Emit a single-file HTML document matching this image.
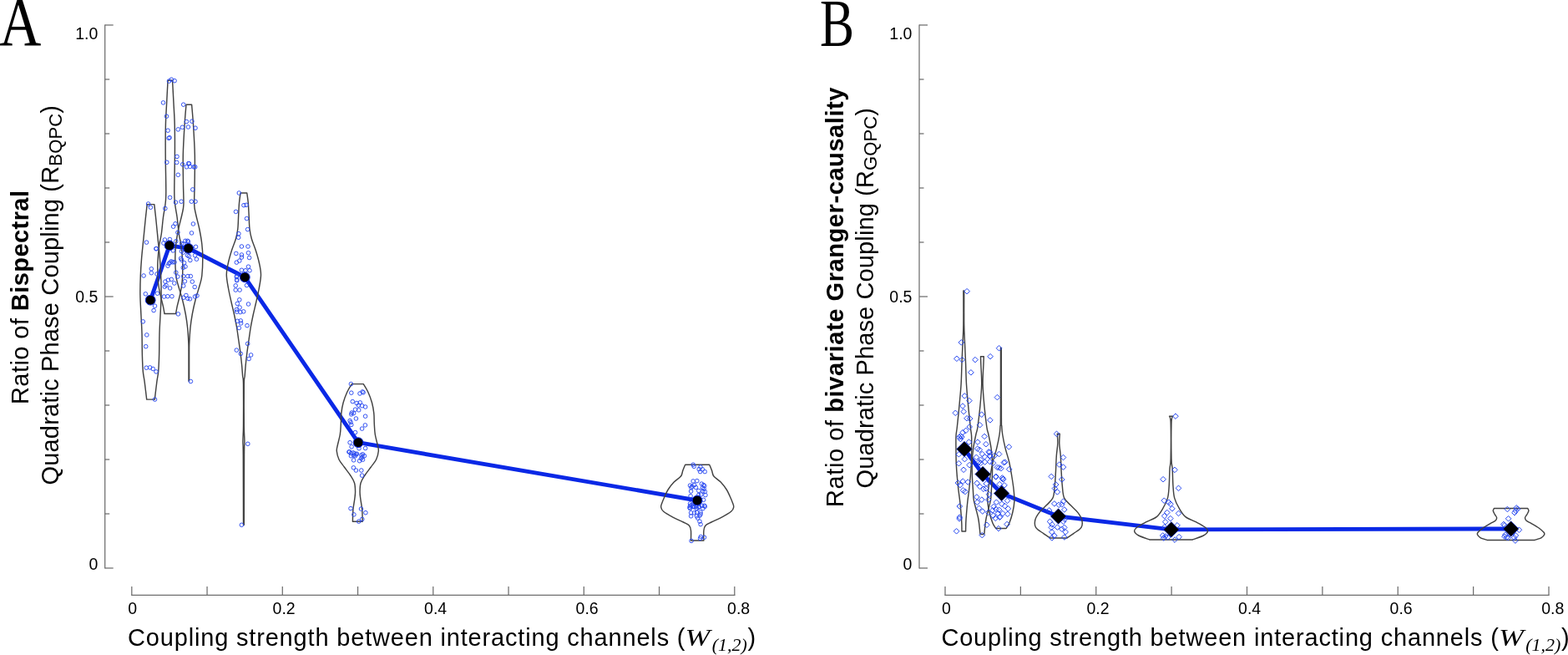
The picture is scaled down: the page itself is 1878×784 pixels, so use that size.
<!DOCTYPE html>
<html><head><meta charset="utf-8"><style>
html,body{margin:0;padding:0;background:#fff;}
body{width:1878px;height:784px;overflow:hidden;}
svg{display:block;}
.sans{font-family:"Liberation Sans",Arial,sans-serif;}
.serif{font-family:"Liberation Serif","Times New Roman",serif;}
</style></head><body>
<svg width="1878" height="784" viewBox="0 0 1878 784">
<rect width="1878" height="784" fill="#fff"/>
<text class="serif" font-size="82" transform="translate(-1,54) scale(0.85,1)">A</text><text class="serif" font-size="81" transform="translate(982,54.6) scale(0.76,1)">B</text><g stroke="#6e6e6e" stroke-width="1.25" fill="none"><path d="M125.70,29.4 V680.6"/><path d="M125.70,680.00 h10.0"/><path d="M125.70,615.00 h5.5"/><path d="M125.70,550.00 h5.5"/><path d="M125.70,485.00 h5.5"/><path d="M125.70,420.00 h5.5"/><path d="M125.70,355.00 h10.0"/><path d="M125.70,290.00 h5.5"/><path d="M125.70,225.00 h5.5"/><path d="M125.70,160.00 h5.5"/><path d="M125.70,95.00 h5.5"/><path d="M125.70,30.00 h10.0"/><path d="M157.20,712.4 H880.40"/><path d="M157.80,712.4 V702"/><path d="M248.05,712.4 V702"/><path d="M338.30,712.4 V702"/><path d="M428.55,712.4 V702"/><path d="M518.80,712.4 V702"/><path d="M609.05,712.4 V702"/><path d="M699.30,712.4 V702"/><path d="M789.55,712.4 V702"/><path d="M879.80,712.4 V702"/></g><g font-family="Liberation Sans, Arial, sans-serif" font-size="19.5" fill="#000"><text x="158.6" y="734.6" text-anchor="middle">0</text><text x="340.1" y="734.6" text-anchor="middle">0.2</text><text x="521.6" y="734.6" text-anchor="middle">0.4</text><text x="703.1" y="734.6" text-anchor="middle">0.6</text><text x="884.6" y="734.6" text-anchor="middle">0.8</text><text x="117.3" y="46.8" text-anchor="end">1.0</text><text x="117.3" y="361.5" text-anchor="end">0.5</text><text x="117.3" y="681.9" text-anchor="end">0</text></g><g stroke="#6e6e6e" stroke-width="1.25" fill="none"><path d="M1101.00,29.4 V680.6"/><path d="M1101.00,680.00 h10.0"/><path d="M1101.00,615.00 h5.5"/><path d="M1101.00,550.00 h5.5"/><path d="M1101.00,485.00 h5.5"/><path d="M1101.00,420.00 h5.5"/><path d="M1101.00,355.00 h10.0"/><path d="M1101.00,290.00 h5.5"/><path d="M1101.00,225.00 h5.5"/><path d="M1101.00,160.00 h5.5"/><path d="M1101.00,95.00 h5.5"/><path d="M1101.00,30.00 h10.0"/><path d="M1131.40,712.4 H1855.60"/><path d="M1132.00,712.4 V702"/><path d="M1222.38,712.4 V702"/><path d="M1312.75,712.4 V702"/><path d="M1403.12,712.4 V702"/><path d="M1493.50,712.4 V702"/><path d="M1583.88,712.4 V702"/><path d="M1674.25,712.4 V702"/><path d="M1764.62,712.4 V702"/><path d="M1855.00,712.4 V702"/></g><g font-family="Liberation Sans, Arial, sans-serif" font-size="19.5" fill="#000"><text x="1133.4" y="734.6" text-anchor="middle">0</text><text x="1315.0" y="734.6" text-anchor="middle">0.2</text><text x="1496.6" y="734.6" text-anchor="middle">0.4</text><text x="1678.1" y="734.6" text-anchor="middle">0.6</text><text x="1859.7" y="734.6" text-anchor="middle">0.8</text><text x="1092.4" y="46.8" text-anchor="end">1.0</text><text x="1092.4" y="361.5" text-anchor="end">0.5</text><text x="1092.4" y="681.9" text-anchor="end">0</text></g><polyline points="180.2,359.2 203.0,293.8 225.7,297.3 293.3,331.8 429.1,529.7 835.1,599.0" fill="none" stroke="#0a28e6" stroke-width="4.9" stroke-linejoin="round"/><polyline points="1155.0,537.5 1177.1,567.5 1199.6,590.5 1267.6,618.0 1402.9,633.9 1809.7,633.0" fill="none" stroke="#0a28e6" stroke-width="4.9" stroke-linejoin="round"/><g fill="none" stroke="#424242" stroke-width="1.45" stroke-linejoin="round"><path d="M176.20,244.60 L184.80,244.60 C185.14,247.67 186.13,256.12 186.85,263.00 C187.57,269.88 188.34,278.25 189.10,285.90 C189.86,293.55 190.80,301.55 191.40,308.90 C192.00,316.25 192.42,322.65 192.70,330.00 C192.98,337.35 193.20,345.33 193.10,353.00 C193.00,360.67 192.45,368.33 192.10,376.00 C191.75,383.67 191.25,390.75 191.00,399.00 C190.75,407.25 190.82,417.90 190.60,425.50 C190.38,433.10 190.17,439.28 189.70,444.60 C189.23,449.92 188.53,451.82 187.80,457.40 C187.07,462.98 185.72,474.65 185.30,478.10 L175.70,478.10 C175.28,474.65 173.93,462.98 173.20,457.40 C172.47,451.82 171.77,449.92 171.30,444.60 C170.83,439.28 170.62,433.10 170.40,425.50 C170.18,417.90 170.25,407.25 170.00,399.00 C169.75,390.75 169.25,383.67 168.90,376.00 C168.55,368.33 168.00,360.67 167.90,353.00 C167.80,345.33 168.02,337.35 168.30,330.00 C168.58,322.65 169.00,316.25 169.60,308.90 C170.20,301.55 171.14,293.55 171.90,285.90 C172.66,278.25 173.43,269.88 174.15,263.00 C174.87,256.12 175.86,247.67 176.20,244.60 Z"/><path d="M201.05,96.20 L206.55,96.20 C206.78,100.67 207.51,114.20 207.95,123.00 C208.39,131.80 208.96,138.67 209.20,149.00 C209.44,159.33 209.47,171.50 209.40,185.00 C209.33,198.50 208.75,220.00 208.80,230.00 C208.85,240.00 209.15,240.00 209.70,245.00 C210.25,250.00 211.33,254.17 212.10,260.00 C212.87,265.83 213.52,274.50 214.30,280.00 C215.08,285.50 216.08,287.67 216.80,293.00 C217.52,298.33 218.30,305.67 218.60,312.00 C218.90,318.33 218.82,325.67 218.60,331.00 C218.38,336.33 217.95,339.75 217.30,344.00 C216.65,348.25 215.55,352.72 214.70,356.50 C213.85,360.28 212.88,363.53 212.20,366.70 C211.52,369.87 210.87,374.03 210.60,375.50 L197.00,375.50 C196.73,374.03 196.08,369.87 195.40,366.70 C194.72,363.53 193.75,360.28 192.90,356.50 C192.05,352.72 190.95,348.25 190.30,344.00 C189.65,339.75 189.22,336.33 189.00,331.00 C188.78,325.67 188.70,318.33 189.00,312.00 C189.30,305.67 190.08,298.33 190.80,293.00 C191.52,287.67 192.52,285.50 193.30,280.00 C194.08,274.50 194.73,265.83 195.50,260.00 C196.27,254.17 197.35,250.00 197.90,245.00 C198.45,240.00 198.75,240.00 198.80,230.00 C198.85,220.00 198.27,198.50 198.20,185.00 C198.13,171.50 198.16,159.33 198.40,149.00 C198.64,138.67 199.21,131.80 199.65,123.00 C200.09,114.20 200.82,100.67 201.05,96.20 Z"/><path d="M223.00,125.20 L229.60,125.20 C229.92,129.17 230.88,139.03 231.50,149.00 C232.12,158.97 233.03,173.17 233.30,185.00 C233.57,196.83 233.20,210.00 233.10,220.00 C233.00,230.00 232.43,238.83 232.70,245.00 C232.97,251.17 233.68,252.17 234.70,257.00 C235.72,261.83 237.62,268.17 238.80,274.00 C239.98,279.83 241.13,286.17 241.80,292.00 C242.47,297.83 242.80,302.67 242.80,309.00 C242.80,315.33 242.38,324.67 241.80,330.00 C241.22,335.33 240.55,336.33 239.30,341.00 C238.05,345.67 235.80,352.17 234.30,358.00 C232.80,363.83 231.37,370.17 230.30,376.00 C229.23,381.83 228.48,387.33 227.90,393.00 C227.32,398.67 227.02,405.50 226.80,410.00 C226.58,414.50 226.63,412.33 226.60,420.00 C226.57,427.67 226.60,450.00 226.60,456.00 L226.00,456.00 C226.00,450.00 226.03,427.67 226.00,420.00 C225.97,412.33 226.02,414.50 225.80,410.00 C225.58,405.50 225.28,398.67 224.70,393.00 C224.12,387.33 223.37,381.83 222.30,376.00 C221.23,370.17 219.80,363.83 218.30,358.00 C216.80,352.17 214.55,345.67 213.30,341.00 C212.05,336.33 211.38,335.33 210.80,330.00 C210.22,324.67 209.80,315.33 209.80,309.00 C209.80,302.67 210.13,297.83 210.80,292.00 C211.47,286.17 212.62,279.83 213.80,274.00 C214.98,268.17 216.88,261.83 217.90,257.00 C218.92,252.17 219.63,251.17 219.90,245.00 C220.17,238.83 219.60,230.00 219.50,220.00 C219.40,210.00 219.03,196.83 219.30,185.00 C219.57,173.17 220.48,158.97 221.10,149.00 C221.72,139.03 222.68,129.17 223.00,125.20 Z"/><path d="M288.05,231.00 L295.75,231.00 C296.01,233.00 296.90,238.50 297.30,243.00 C297.70,247.50 297.87,252.83 298.15,258.00 C298.43,263.17 298.46,269.33 299.00,274.00 C299.54,278.67 300.17,281.67 301.40,286.00 C302.63,290.33 304.88,295.17 306.40,300.00 C307.92,304.83 309.48,310.17 310.50,315.00 C311.52,319.83 312.53,324.00 312.50,329.00 C312.47,334.00 311.23,339.67 310.30,345.00 C309.37,350.33 308.05,355.83 306.90,361.00 C305.75,366.17 304.48,371.00 303.40,376.00 C302.32,381.00 301.28,385.92 300.40,391.00 C299.52,396.08 298.85,401.33 298.10,406.50 C297.35,411.67 296.55,416.92 295.90,422.00 C295.25,427.08 294.65,432.33 294.20,437.00 C293.75,441.67 293.52,446.17 293.20,450.00 C292.88,453.83 292.45,450.00 292.30,460.00 C292.15,470.00 292.20,498.67 292.30,510.00 C292.40,521.33 292.87,522.17 292.90,528.00 C292.93,533.83 292.60,528.28 292.50,545.00 C292.40,561.72 292.33,614.42 292.30,628.30 L291.50,628.30 C291.47,614.42 291.40,561.72 291.30,545.00 C291.20,528.28 290.87,533.83 290.90,528.00 C290.93,522.17 291.40,521.33 291.50,510.00 C291.60,498.67 291.65,470.00 291.50,460.00 C291.35,450.00 290.92,453.83 290.60,450.00 C290.28,446.17 290.05,441.67 289.60,437.00 C289.15,432.33 288.55,427.08 287.90,422.00 C287.25,416.92 286.45,411.67 285.70,406.50 C284.95,401.33 284.28,396.08 283.40,391.00 C282.52,385.92 281.48,381.00 280.40,376.00 C279.32,371.00 278.05,366.17 276.90,361.00 C275.75,355.83 274.43,350.33 273.50,345.00 C272.57,339.67 271.33,334.00 271.30,329.00 C271.27,324.00 272.28,319.83 273.30,315.00 C274.32,310.17 275.88,304.83 277.40,300.00 C278.92,295.17 281.17,290.33 282.40,286.00 C283.63,281.67 284.26,278.67 284.80,274.00 C285.34,269.33 285.37,263.17 285.65,258.00 C285.93,252.83 286.10,247.50 286.50,243.00 C286.90,238.50 287.79,233.00 288.05,231.00 Z"/><path d="M421.30,459.60 L435.30,459.60 C436.20,461.17 439.00,465.27 440.70,469.00 C442.40,472.73 444.32,477.73 445.50,482.00 C446.68,486.27 447.33,490.37 447.80,494.60 C448.27,498.83 448.05,503.17 448.30,507.40 C448.55,511.63 448.63,515.73 449.30,520.00 C449.97,524.27 451.63,529.67 452.30,533.00 C452.97,536.33 453.58,537.17 453.30,540.00 C453.02,542.83 452.10,546.83 450.60,550.00 C449.10,553.17 446.58,555.83 444.30,559.00 C442.02,562.17 438.93,565.83 436.90,569.00 C434.87,572.17 433.08,574.75 432.10,578.00 C431.12,581.25 431.10,585.33 431.05,588.50 C431.00,591.67 431.36,593.42 431.80,597.00 C432.24,600.58 433.30,605.47 433.70,610.00 C434.10,614.53 434.12,621.83 434.20,624.20 L422.40,624.20 C422.48,621.83 422.50,614.53 422.90,610.00 C423.30,605.47 424.36,600.58 424.80,597.00 C425.24,593.42 425.60,591.67 425.55,588.50 C425.50,585.33 425.48,581.25 424.50,578.00 C423.52,574.75 421.73,572.17 419.70,569.00 C417.67,565.83 414.58,562.17 412.30,559.00 C410.02,555.83 407.50,553.17 406.00,550.00 C404.50,546.83 403.58,542.83 403.30,540.00 C403.02,537.17 403.63,536.33 404.30,533.00 C404.97,529.67 406.63,524.27 407.30,520.00 C407.97,515.73 408.05,511.63 408.30,507.40 C408.55,503.17 408.33,498.83 408.80,494.60 C409.27,490.37 409.92,486.27 411.10,482.00 C412.28,477.73 414.20,472.73 415.90,469.00 C417.60,465.27 420.40,461.17 421.30,459.60 Z"/><path d="M820.70,556.20 L849.70,556.20 C850.17,557.33 851.63,560.70 852.50,563.00 C853.37,565.30 853.12,567.67 854.90,570.00 C856.68,572.33 860.65,574.33 863.20,577.00 C865.75,579.67 868.37,583.17 870.20,586.00 C872.03,588.83 872.95,591.25 874.20,594.00 C875.45,596.75 876.95,600.33 877.70,602.50 C878.45,604.67 879.00,605.42 878.70,607.00 C878.40,608.58 878.35,609.93 875.90,612.00 C873.45,614.07 867.98,617.23 864.00,619.40 C860.02,621.57 855.17,623.40 852.00,625.00 C848.83,626.60 846.52,627.33 845.00,629.00 C843.48,630.67 843.25,632.00 842.90,635.00 C842.55,638.00 842.90,645.00 842.90,647.00 L827.50,647.00 C827.50,645.00 827.85,638.00 827.50,635.00 C827.15,632.00 826.92,630.67 825.40,629.00 C823.88,627.33 821.57,626.60 818.40,625.00 C815.23,623.40 810.38,621.57 806.40,619.40 C802.42,617.23 796.95,614.07 794.50,612.00 C792.05,609.93 792.00,608.58 791.70,607.00 C791.40,605.42 791.95,604.67 792.70,602.50 C793.45,600.33 794.95,596.75 796.20,594.00 C797.45,591.25 798.37,588.83 800.20,586.00 C802.03,583.17 804.65,579.67 807.20,577.00 C809.75,574.33 813.72,572.33 815.50,570.00 C817.28,567.67 817.03,565.30 817.90,563.00 C818.77,560.70 820.23,557.33 820.70,556.20 Z"/><path d="M1153.90,347.90 L1154.70,347.90 C1154.70,354.67 1154.57,378.15 1154.70,388.50 C1154.83,398.85 1155.18,402.25 1155.50,410.00 C1155.82,417.75 1156.27,426.67 1156.60,435.00 C1156.93,443.33 1156.98,451.50 1157.50,460.00 C1158.02,468.50 1158.90,477.42 1159.70,486.00 C1160.50,494.58 1161.65,505.50 1162.30,511.50 C1162.95,517.50 1163.38,517.25 1163.60,522.00 C1163.82,526.75 1163.65,534.50 1163.60,540.00 C1163.55,545.50 1163.52,550.00 1163.30,555.00 C1163.08,560.00 1162.73,564.83 1162.30,570.00 C1161.87,575.17 1161.27,581.00 1160.70,586.00 C1160.13,591.00 1159.42,595.33 1158.90,600.00 C1158.38,604.67 1157.95,609.67 1157.60,614.00 C1157.25,618.33 1156.97,622.33 1156.80,626.00 C1156.63,629.67 1156.63,634.33 1156.60,636.00 L1152.00,636.00 C1151.97,634.33 1151.97,629.67 1151.80,626.00 C1151.63,622.33 1151.35,618.33 1151.00,614.00 C1150.65,609.67 1150.22,604.67 1149.70,600.00 C1149.18,595.33 1148.47,591.00 1147.90,586.00 C1147.33,581.00 1146.73,575.17 1146.30,570.00 C1145.87,564.83 1145.52,560.00 1145.30,555.00 C1145.08,550.00 1145.05,545.50 1145.00,540.00 C1144.95,534.50 1144.78,526.75 1145.00,522.00 C1145.22,517.25 1145.65,517.50 1146.30,511.50 C1146.95,505.50 1148.10,494.58 1148.90,486.00 C1149.70,477.42 1150.58,468.50 1151.10,460.00 C1151.62,451.50 1151.67,443.33 1152.00,435.00 C1152.33,426.67 1152.78,417.75 1153.10,410.00 C1153.42,402.25 1153.77,398.85 1153.90,388.50 C1154.03,378.15 1153.90,354.67 1153.90,347.90 Z"/><path d="M1174.50,426.70 L1178.30,426.70 C1178.25,428.08 1178.20,429.45 1178.00,435.00 C1177.80,440.55 1176.95,451.50 1177.10,460.00 C1177.25,468.50 1178.10,477.42 1178.90,486.00 C1179.70,494.58 1181.07,505.83 1181.90,511.50 C1182.73,517.17 1183.03,515.82 1183.90,520.00 C1184.77,524.18 1186.33,531.10 1187.10,536.60 C1187.87,542.10 1188.28,547.47 1188.50,553.00 C1188.72,558.53 1188.58,564.25 1188.40,569.80 C1188.22,575.35 1187.70,581.60 1187.40,586.30 C1187.10,591.00 1187.13,594.38 1186.60,598.00 C1186.07,601.62 1185.10,604.33 1184.20,608.00 C1183.30,611.67 1181.90,616.67 1181.20,620.00 C1180.50,623.33 1180.40,624.77 1180.00,628.00 C1179.60,631.23 1179.00,637.50 1178.80,639.40 L1174.00,639.40 C1173.80,637.50 1173.20,631.23 1172.80,628.00 C1172.40,624.77 1172.30,623.33 1171.60,620.00 C1170.90,616.67 1169.50,611.67 1168.60,608.00 C1167.70,604.33 1166.73,601.62 1166.20,598.00 C1165.67,594.38 1165.70,591.00 1165.40,586.30 C1165.10,581.60 1164.58,575.35 1164.40,569.80 C1164.22,564.25 1164.08,558.53 1164.30,553.00 C1164.52,547.47 1164.93,542.10 1165.70,536.60 C1166.47,531.10 1168.03,524.18 1168.90,520.00 C1169.77,515.82 1170.07,517.17 1170.90,511.50 C1171.73,505.83 1173.10,494.58 1173.90,486.00 C1174.70,477.42 1175.55,468.50 1175.70,460.00 C1175.85,451.50 1175.00,440.55 1174.80,435.00 C1174.60,429.45 1174.55,428.08 1174.50,426.70 Z"/><path d="M1198.50,416.50 L1199.30,416.50 C1199.32,430.42 1199.32,484.42 1199.40,500.00 C1199.48,515.58 1199.58,506.67 1199.80,510.00 C1200.02,513.33 1199.98,515.57 1200.70,520.00 C1201.42,524.43 1202.77,531.10 1204.10,536.60 C1205.43,542.10 1207.42,547.43 1208.70,553.00 C1209.98,558.57 1210.90,564.50 1211.80,570.00 C1212.70,575.50 1213.58,581.00 1214.10,586.00 C1214.62,591.00 1215.10,595.50 1214.90,600.00 C1214.70,604.50 1213.90,608.67 1212.90,613.00 C1211.90,617.33 1210.20,622.75 1208.90,626.00 C1207.60,629.25 1205.73,631.42 1205.10,632.50 L1192.70,632.50 C1192.07,631.42 1190.20,629.25 1188.90,626.00 C1187.60,622.75 1185.90,617.33 1184.90,613.00 C1183.90,608.67 1183.10,604.50 1182.90,600.00 C1182.70,595.50 1183.18,591.00 1183.70,586.00 C1184.22,581.00 1185.10,575.50 1186.00,570.00 C1186.90,564.50 1187.82,558.57 1189.10,553.00 C1190.38,547.43 1192.37,542.10 1193.70,536.60 C1195.03,531.10 1196.38,524.43 1197.10,520.00 C1197.82,515.57 1197.78,513.33 1198.00,510.00 C1198.22,506.67 1198.32,515.58 1198.40,500.00 C1198.48,484.42 1198.48,430.42 1198.50,416.50 Z"/><path d="M1266.30,519.30 L1269.30,519.30 C1269.22,521.25 1268.63,526.60 1268.80,531.00 C1268.97,535.40 1269.92,540.27 1270.30,545.70 C1270.68,551.13 1270.77,557.65 1271.10,563.60 C1271.43,569.55 1271.73,576.05 1272.30,581.40 C1272.87,586.75 1272.87,591.83 1274.50,595.70 C1276.13,599.57 1279.35,601.62 1282.10,604.60 C1284.85,607.58 1288.72,610.62 1291.00,613.60 C1293.28,616.58 1295.13,619.53 1295.80,622.50 C1296.47,625.47 1296.67,628.72 1295.00,631.40 C1293.33,634.08 1288.62,636.52 1285.80,638.60 C1282.98,640.68 1279.38,643.02 1278.10,643.90 L1257.50,643.90 C1256.22,643.02 1252.62,640.68 1249.80,638.60 C1246.98,636.52 1242.27,634.08 1240.60,631.40 C1238.93,628.72 1239.13,625.47 1239.80,622.50 C1240.47,619.53 1242.32,616.58 1244.60,613.60 C1246.88,610.62 1250.75,607.58 1253.50,604.60 C1256.25,601.62 1259.47,599.57 1261.10,595.70 C1262.73,591.83 1262.73,586.75 1263.30,581.40 C1263.87,576.05 1264.17,569.55 1264.50,563.60 C1264.83,557.65 1264.92,551.13 1265.30,545.70 C1265.68,540.27 1266.63,535.40 1266.80,531.00 C1266.97,526.60 1266.38,521.25 1266.30,519.30 Z"/><path d="M1400.60,498.20 L1404.60,498.20 C1404.33,499.55 1403.27,497.80 1403.00,506.30 C1402.73,514.80 1402.80,540.02 1403.00,549.20 C1403.20,558.38 1403.87,555.97 1404.20,561.40 C1404.53,566.83 1404.58,576.02 1405.00,581.80 C1405.42,587.58 1405.48,591.67 1406.70,596.10 C1407.92,600.53 1410.10,604.65 1412.30,608.40 C1414.50,612.15 1416.58,615.88 1419.90,618.60 C1423.22,621.32 1428.37,622.67 1432.20,624.70 C1436.03,626.73 1440.52,628.93 1442.90,630.80 C1445.28,632.67 1446.75,634.20 1446.50,635.90 C1446.25,637.60 1444.47,639.32 1441.40,641.00 C1438.33,642.68 1430.32,645.17 1428.10,646.00 L1377.10,646.00 C1374.88,645.17 1366.87,642.68 1363.80,641.00 C1360.73,639.32 1358.95,637.60 1358.70,635.90 C1358.45,634.20 1359.92,632.67 1362.30,630.80 C1364.68,628.93 1369.17,626.73 1373.00,624.70 C1376.83,622.67 1381.98,621.32 1385.30,618.60 C1388.62,615.88 1390.70,612.15 1392.90,608.40 C1395.10,604.65 1397.28,600.53 1398.50,596.10 C1399.72,591.67 1399.78,587.58 1400.20,581.80 C1400.62,576.02 1400.67,566.83 1401.00,561.40 C1401.33,555.97 1402.00,558.38 1402.20,549.20 C1402.40,540.02 1402.47,514.80 1402.20,506.30 C1401.93,497.80 1400.87,499.55 1400.60,498.20 Z"/><path d="M1789.40,608.50 L1829.80,608.50 C1829.98,608.98 1831.07,610.17 1830.90,611.40 C1830.73,612.63 1829.52,614.55 1828.80,615.90 C1828.08,617.25 1826.75,618.32 1826.60,619.50 C1826.45,620.68 1826.63,621.82 1827.90,623.00 C1829.17,624.18 1831.67,625.10 1834.20,626.60 C1836.73,628.10 1840.62,630.22 1843.10,632.00 C1845.58,633.78 1848.02,635.97 1849.10,637.30 C1850.18,638.63 1850.08,638.95 1849.60,640.00 C1849.12,641.05 1848.10,642.53 1846.20,643.60 C1844.30,644.67 1839.53,645.93 1838.20,646.40 L1781.00,646.40 C1779.67,645.93 1774.90,644.67 1773.00,643.60 C1771.10,642.53 1770.08,641.05 1769.60,640.00 C1769.12,638.95 1769.02,638.63 1770.10,637.30 C1771.18,635.97 1773.62,633.78 1776.10,632.00 C1778.58,630.22 1782.47,628.10 1785.00,626.60 C1787.53,625.10 1790.03,624.18 1791.30,623.00 C1792.57,621.82 1792.75,620.68 1792.60,619.50 C1792.45,618.32 1791.12,617.25 1790.40,615.90 C1789.68,614.55 1788.47,612.63 1788.30,611.40 C1788.13,610.17 1789.22,608.98 1789.40,608.50 Z"/></g><g fill="none" stroke="#2a4af0" stroke-width="0.95"><circle cx="202.5" cy="97.1" r="2.3"/><circle cx="205.3" cy="95.2" r="2.3"/><circle cx="209.1" cy="96.7" r="2.3"/><circle cx="195.5" cy="122.9" r="2.3"/><circle cx="219.7" cy="125.2" r="2.3"/><circle cx="199.5" cy="139.2" r="2.3"/><circle cx="223.4" cy="145.6" r="2.3"/><circle cx="229.9" cy="145.2" r="2.3"/><circle cx="218.4" cy="152.3" r="2.3"/><circle cx="225.4" cy="152.0" r="2.3"/><circle cx="234.0" cy="153.2" r="2.3"/><circle cx="213.3" cy="154.9" r="2.3"/><circle cx="201.1" cy="156.2" r="2.3"/><circle cx="202.1" cy="165.4" r="2.3"/><circle cx="203.1" cy="164.7" r="2.3"/><circle cx="212.0" cy="187.4" r="2.3"/><circle cx="199.8" cy="194.3" r="2.3"/><circle cx="211.7" cy="194.4" r="2.3"/><circle cx="218.7" cy="196.8" r="2.3"/><circle cx="225.7" cy="195.6" r="2.3"/><circle cx="226.6" cy="195.9" r="2.3"/><circle cx="223.4" cy="199.8" r="2.3"/><circle cx="227.6" cy="199.4" r="2.3"/><circle cx="232.1" cy="199.8" r="2.3"/><circle cx="233.7" cy="199.8" r="2.3"/><circle cx="213.3" cy="209.3" r="2.3"/><circle cx="230.8" cy="226.9" r="2.3"/><circle cx="203.6" cy="236.4" r="2.3"/><circle cx="210.4" cy="242.2" r="2.3"/><circle cx="217.1" cy="241.2" r="2.3"/><circle cx="229.3" cy="241.2" r="2.3"/><circle cx="234.0" cy="241.2" r="2.3"/><circle cx="177.6" cy="244.0" r="2.3"/><circle cx="180.4" cy="248.2" r="2.3"/><circle cx="197.8" cy="249.5" r="2.3"/><circle cx="210.0" cy="267.8" r="2.3"/><circle cx="207.6" cy="271.2" r="2.3"/><circle cx="231.4" cy="268.0" r="2.3"/><circle cx="212.9" cy="278.2" r="2.3"/><circle cx="229.5" cy="278.9" r="2.3"/><circle cx="197.4" cy="287.0" r="2.3"/><circle cx="203.4" cy="286.5" r="2.3"/><circle cx="195.9" cy="291.0" r="2.3"/><circle cx="210.8" cy="288.8" r="2.3"/><circle cx="222.0" cy="288.3" r="2.3"/><circle cx="224.6" cy="288.3" r="2.3"/><circle cx="225.5" cy="289.2" r="2.3"/><circle cx="217.5" cy="291.4" r="2.3"/><circle cx="219.7" cy="291.9" r="2.3"/><circle cx="234.5" cy="295.4" r="2.3"/><circle cx="187.1" cy="297.7" r="2.3"/><circle cx="207.2" cy="299.9" r="2.3"/><circle cx="217.5" cy="300.8" r="2.3"/><circle cx="219.7" cy="302.1" r="2.3"/><circle cx="224.6" cy="305.7" r="2.3"/><circle cx="226.4" cy="306.6" r="2.3"/><circle cx="233.6" cy="305.7" r="2.3"/><circle cx="235.4" cy="310.2" r="2.3"/><circle cx="216.6" cy="309.3" r="2.3"/><circle cx="217.5" cy="311.1" r="2.3"/><circle cx="227.8" cy="311.5" r="2.3"/><circle cx="205.0" cy="312.9" r="2.3"/><circle cx="206.8" cy="313.8" r="2.3"/><circle cx="203.7" cy="314.2" r="2.3"/><circle cx="202.3" cy="315.5" r="2.3"/><circle cx="201.0" cy="318.2" r="2.3"/><circle cx="209.0" cy="313.8" r="2.3"/><circle cx="220.6" cy="314.6" r="2.3"/><circle cx="222.0" cy="319.1" r="2.3"/><circle cx="219.3" cy="320.4" r="2.3"/><circle cx="181.3" cy="321.8" r="2.3"/><circle cx="181.3" cy="326.7" r="2.3"/><circle cx="210.8" cy="326.2" r="2.3"/><circle cx="188.0" cy="328.0" r="2.3"/><circle cx="175.5" cy="290.1" r="2.3"/><circle cx="187.0" cy="297.7" r="2.3"/><circle cx="172.1" cy="330.0" r="2.3"/><circle cx="174.3" cy="351.8" r="2.3"/><circle cx="188.5" cy="351.2" r="2.3"/><circle cx="185.5" cy="366.2" r="2.3"/><circle cx="184.1" cy="371.6" r="2.3"/><circle cx="171.3" cy="384.9" r="2.3"/><circle cx="175.8" cy="400.9" r="2.3"/><circle cx="174.7" cy="414.7" r="2.3"/><circle cx="197.9" cy="337.1" r="2.3"/><circle cx="201.3" cy="335.2" r="2.3"/><circle cx="205.3" cy="334.4" r="2.3"/><circle cx="208.8" cy="339.0" r="2.3"/><circle cx="199.0" cy="341.5" r="2.3"/><circle cx="197.3" cy="343.2" r="2.3"/><circle cx="203.6" cy="344.9" r="2.3"/><circle cx="196.5" cy="355.0" r="2.3"/><circle cx="200.8" cy="354.7" r="2.3"/><circle cx="205.9" cy="354.7" r="2.3"/><circle cx="213.4" cy="375.9" r="2.3"/><circle cx="221.4" cy="336.7" r="2.3"/><circle cx="219.7" cy="342.1" r="2.3"/><circle cx="230.3" cy="337.1" r="2.3"/><circle cx="233.2" cy="343.5" r="2.3"/><circle cx="219.9" cy="356.2" r="2.3"/><circle cx="222.9" cy="353.5" r="2.3"/><circle cx="224.9" cy="357.3" r="2.3"/><circle cx="227.5" cy="357.8" r="2.3"/><circle cx="233.5" cy="355.0" r="2.3"/><circle cx="236.0" cy="353.9" r="2.3"/><circle cx="212.8" cy="331.1" r="2.3"/><circle cx="219.7" cy="330.6" r="2.3"/><circle cx="224.9" cy="330.6" r="2.3"/><circle cx="228.3" cy="330.6" r="2.3"/><circle cx="175.3" cy="440.2" r="2.3"/><circle cx="179.6" cy="439.9" r="2.3"/><circle cx="183.2" cy="441.5" r="2.3"/><circle cx="187.0" cy="444.9" r="2.3"/><circle cx="185.5" cy="478.1" r="2.3"/><circle cx="228.4" cy="456.5" r="2.3"/><circle cx="286.3" cy="231.0" r="2.3"/><circle cx="292.0" cy="245.7" r="2.3"/><circle cx="295.0" cy="245.3" r="2.3"/><circle cx="282.5" cy="253.4" r="2.3"/><circle cx="295.5" cy="261.6" r="2.3"/><circle cx="296.6" cy="274.6" r="2.3"/><circle cx="285.9" cy="279.7" r="2.3"/><circle cx="285.6" cy="284.3" r="2.3"/><circle cx="289.4" cy="295.0" r="2.3"/><circle cx="297.0" cy="295.0" r="2.3"/><circle cx="282.8" cy="303.4" r="2.3"/><circle cx="289.4" cy="305.0" r="2.3"/><circle cx="297.5" cy="302.7" r="2.3"/><circle cx="289.4" cy="308.0" r="2.3"/><circle cx="298.6" cy="308.5" r="2.3"/><circle cx="283.3" cy="314.1" r="2.3"/><circle cx="286.8" cy="312.1" r="2.3"/><circle cx="297.5" cy="319.2" r="2.3"/><circle cx="289.4" cy="323.3" r="2.3"/><circle cx="294.0" cy="323.8" r="2.3"/><circle cx="299.0" cy="323.8" r="2.3"/><circle cx="283.7" cy="330.2" r="2.3"/><circle cx="283.7" cy="334.8" r="2.3"/><circle cx="283.3" cy="331.5" r="2.3"/><circle cx="283.7" cy="335.8" r="2.3"/><circle cx="282.2" cy="341.9" r="2.3"/><circle cx="282.2" cy="347.1" r="2.3"/><circle cx="287.1" cy="347.1" r="2.3"/><circle cx="295.5" cy="341.5" r="2.3"/><circle cx="286.8" cy="358.8" r="2.3"/><circle cx="284.3" cy="363.4" r="2.3"/><circle cx="297.5" cy="364.0" r="2.3"/><circle cx="287.1" cy="368.0" r="2.3"/><circle cx="283.3" cy="370.6" r="2.3"/><circle cx="283.7" cy="373.2" r="2.3"/><circle cx="287.8" cy="373.6" r="2.3"/><circle cx="291.7" cy="372.9" r="2.3"/><circle cx="284.3" cy="384.3" r="2.3"/><circle cx="288.3" cy="383.9" r="2.3"/><circle cx="288.6" cy="386.9" r="2.3"/><circle cx="286.3" cy="392.5" r="2.3"/><circle cx="296.0" cy="389.7" r="2.3"/><circle cx="296.6" cy="411.4" r="2.3"/><circle cx="283.3" cy="419.1" r="2.3"/><circle cx="288.3" cy="423.4" r="2.3"/><circle cx="300.6" cy="424.9" r="2.3"/><circle cx="298.1" cy="429.5" r="2.3"/><circle cx="296.8" cy="531.3" r="2.3"/><circle cx="289.4" cy="628.3" r="2.3"/><circle cx="420.4" cy="459.6" r="2.3"/><circle cx="420.8" cy="470.2" r="2.3"/><circle cx="431.0" cy="471.0" r="2.3"/><circle cx="434.1" cy="468.9" r="2.3"/><circle cx="435.1" cy="469.8" r="2.3"/><circle cx="422.3" cy="480.6" r="2.3"/><circle cx="427.2" cy="482.5" r="2.3"/><circle cx="431.3" cy="481.9" r="2.3"/><circle cx="429.4" cy="485.1" r="2.3"/><circle cx="433.6" cy="485.7" r="2.3"/><circle cx="437.6" cy="487.0" r="2.3"/><circle cx="425.5" cy="490.2" r="2.3"/><circle cx="429.7" cy="490.8" r="2.3"/><circle cx="423.6" cy="494.6" r="2.3"/><circle cx="420.8" cy="495.9" r="2.3"/><circle cx="421.3" cy="494.0" r="2.3"/><circle cx="437.6" cy="498.2" r="2.3"/><circle cx="426.4" cy="501.0" r="2.3"/><circle cx="419.1" cy="503.6" r="2.3"/><circle cx="420.0" cy="505.5" r="2.3"/><circle cx="420.8" cy="508.4" r="2.3"/><circle cx="437.4" cy="508.9" r="2.3"/><circle cx="433.6" cy="513.1" r="2.3"/><circle cx="425.5" cy="517.6" r="2.3"/><circle cx="419.1" cy="529.7" r="2.3"/><circle cx="421.1" cy="534.8" r="2.3"/><circle cx="430.0" cy="536.7" r="2.3"/><circle cx="437.6" cy="536.5" r="2.3"/><circle cx="418.5" cy="540.8" r="2.3"/><circle cx="417.9" cy="541.0" r="2.3"/><circle cx="420.4" cy="542.6" r="2.3"/><circle cx="423.0" cy="541.9" r="2.3"/><circle cx="424.6" cy="542.8" r="2.3"/><circle cx="426.4" cy="543.8" r="2.3"/><circle cx="427.4" cy="543.2" r="2.3"/><circle cx="420.4" cy="545.7" r="2.3"/><circle cx="423.6" cy="545.1" r="2.3"/><circle cx="425.5" cy="545.7" r="2.3"/><circle cx="432.8" cy="544.8" r="2.3"/><circle cx="434.5" cy="543.8" r="2.3"/><circle cx="436.4" cy="545.7" r="2.3"/><circle cx="433.8" cy="547.0" r="2.3"/><circle cx="432.5" cy="548.9" r="2.3"/><circle cx="423.6" cy="550.8" r="2.3"/><circle cx="430.6" cy="551.7" r="2.3"/><circle cx="434.5" cy="550.2" r="2.3"/><circle cx="423.4" cy="559.8" r="2.3"/><circle cx="426.4" cy="563.0" r="2.3"/><circle cx="432.8" cy="563.0" r="2.3"/><circle cx="433.6" cy="569.1" r="2.3"/><circle cx="420.0" cy="608.6" r="2.3"/><circle cx="432.5" cy="609.1" r="2.3"/><circle cx="423.9" cy="615.9" r="2.3"/><circle cx="437.9" cy="613.7" r="2.3"/><circle cx="433.8" cy="621.4" r="2.3"/><circle cx="429.7" cy="624.2" r="2.3"/><circle cx="830.2" cy="556.2" r="2.3"/><circle cx="831.2" cy="558.3" r="2.3"/><circle cx="839.0" cy="559.0" r="2.3"/><circle cx="837.2" cy="561.6" r="2.3"/><circle cx="841.4" cy="561.8" r="2.3"/><circle cx="838.6" cy="564.6" r="2.3"/><circle cx="844.2" cy="564.6" r="2.3"/><circle cx="839.3" cy="642.5" r="2.3"/><circle cx="843.5" cy="643.2" r="2.3"/><circle cx="838.6" cy="644.6" r="2.3"/><circle cx="828.1" cy="647.4" r="2.3"/><circle cx="830.2" cy="575.9" r="2.3"/><circle cx="834.8" cy="575.6" r="2.3"/><circle cx="826.5" cy="581.1" r="2.3"/><circle cx="828.8" cy="582.2" r="2.3"/><circle cx="831.6" cy="580.5" r="2.3"/><circle cx="827.9" cy="583.7" r="2.3"/><circle cx="833.4" cy="583.4" r="2.3"/><circle cx="840.3" cy="579.1" r="2.3"/><circle cx="842.6" cy="580.5" r="2.3"/><circle cx="843.7" cy="581.6" r="2.3"/><circle cx="841.4" cy="583.9" r="2.3"/><circle cx="843.1" cy="585.1" r="2.3"/><circle cx="827.6" cy="588.0" r="2.3"/><circle cx="836.8" cy="587.4" r="2.3"/><circle cx="842.0" cy="588.0" r="2.3"/><circle cx="844.3" cy="588.5" r="2.3"/><circle cx="844.9" cy="592.6" r="2.3"/><circle cx="827.1" cy="593.7" r="2.3"/><circle cx="836.8" cy="592.6" r="2.3"/><circle cx="839.7" cy="592.0" r="2.3"/><circle cx="842.6" cy="598.3" r="2.3"/><circle cx="843.7" cy="605.2" r="2.3"/><circle cx="826.5" cy="602.9" r="2.3"/><circle cx="828.2" cy="604.6" r="2.3"/><circle cx="830.5" cy="606.3" r="2.3"/><circle cx="833.9" cy="606.3" r="2.3"/><circle cx="837.4" cy="606.3" r="2.3"/><circle cx="840.8" cy="605.2" r="2.3"/><circle cx="825.9" cy="607.5" r="2.3"/><circle cx="826.5" cy="605.7" r="2.3"/><circle cx="829.4" cy="606.3" r="2.3"/><circle cx="826.5" cy="608.6" r="2.3"/><circle cx="831.6" cy="606.9" r="2.3"/><circle cx="834.5" cy="608.6" r="2.3"/><circle cx="836.8" cy="607.5" r="2.3"/><circle cx="844.3" cy="606.3" r="2.3"/><circle cx="842.0" cy="608.6" r="2.3"/><circle cx="827.6" cy="613.8" r="2.3"/><circle cx="831.6" cy="613.8" r="2.3"/><circle cx="834.5" cy="613.2" r="2.3"/><circle cx="839.1" cy="613.2" r="2.3"/><circle cx="839.1" cy="615.5" r="2.3"/><circle cx="827.6" cy="617.8" r="2.3"/><circle cx="834.5" cy="617.8" r="2.3"/><circle cx="838.0" cy="617.2" r="2.3"/><circle cx="835.7" cy="620.1" r="2.3"/><circle cx="838.0" cy="624.1" r="2.3"/><circle cx="839.1" cy="627.6" r="2.3"/></g><g fill="none" stroke="#2446f0" stroke-width="1.0"><path d="M1158.1,345.4l3.3,3.3l-3.3,3.3l-3.3,-3.3z"/><path d="M1151.4,406.6l3.3,3.3l-3.3,3.3l-3.3,-3.3z"/><path d="M1145.9,426.0l3.3,3.3l-3.3,3.3l-3.3,-3.3z"/><path d="M1152.3,427.3l3.3,3.3l-3.3,3.3l-3.3,-3.3z"/><path d="M1168.0,427.3l3.3,3.3l-3.3,3.3l-3.3,-3.3z"/><path d="M1186.1,423.4l3.3,3.3l-3.3,3.3l-3.3,-3.3z"/><path d="M1196.6,413.5l3.3,3.3l-3.3,3.3l-3.3,-3.3z"/><path d="M1162.9,442.5l3.3,3.3l-3.3,3.3l-3.3,-3.3z"/><path d="M1155.3,470.6l3.3,3.3l-3.3,3.3l-3.3,-3.3z"/><path d="M1160.9,476.3l3.3,3.3l-3.3,3.3l-3.3,-3.3z"/><path d="M1153.0,482.7l3.3,3.3l-3.3,3.3l-3.3,-3.3z"/><path d="M1144.3,491.0l3.3,3.3l-3.3,3.3l-3.3,-3.3z"/><path d="M1154.2,489.4l3.3,3.3l-3.3,3.3l-3.3,-3.3z"/><path d="M1158.1,497.4l3.3,3.3l-3.3,3.3l-3.3,-3.3z"/><path d="M1161.6,497.8l3.3,3.3l-3.3,3.3l-3.3,-3.3z"/><path d="M1161.2,507.6l3.3,3.3l-3.3,3.3l-3.3,-3.3z"/><path d="M1156.8,512.1l3.3,3.3l-3.3,3.3l-3.3,-3.3z"/><path d="M1153.0,514.4l3.3,3.3l-3.3,3.3l-3.3,-3.3z"/><path d="M1150.4,518.4l3.3,3.3l-3.3,3.3l-3.3,-3.3z"/><path d="M1149.1,520.0l3.3,3.3l-3.3,3.3l-3.3,-3.3z"/><path d="M1151.9,519.7l3.3,3.3l-3.3,3.3l-3.3,-3.3z"/><path d="M1194.4,472.3l3.3,3.3l-3.3,3.3l-3.3,-3.3z"/><path d="M1175.7,492.9l3.3,3.3l-3.3,3.3l-3.3,-3.3z"/><path d="M1185.9,499.6l3.3,3.3l-3.3,3.3l-3.3,-3.3z"/><path d="M1173.6,505.4l3.3,3.3l-3.3,3.3l-3.3,-3.3z"/><path d="M1179.1,519.1l3.3,3.3l-3.3,3.3l-3.3,-3.3z"/><path d="M1265.5,516.0l3.3,3.3l-3.3,3.3l-3.3,-3.3z"/><path d="M1273.5,544.2l3.3,3.3l-3.3,3.3l-3.3,-3.3z"/><path d="M1268.7,552.8l3.3,3.3l-3.3,3.3l-3.3,-3.3z"/><path d="M1273.5,555.8l3.3,3.3l-3.3,3.3l-3.3,-3.3z"/><path d="M1259.2,567.1l3.3,3.3l-3.3,3.3l-3.3,-3.3z"/><path d="M1271.8,570.6l3.3,3.3l-3.3,3.3l-3.3,-3.3z"/><path d="M1264.6,576.7l3.3,3.3l-3.3,3.3l-3.3,-3.3z"/><path d="M1263.4,581.3l3.3,3.3l-3.3,3.3l-3.3,-3.3z"/><path d="M1266.4,585.6l3.3,3.3l-3.3,3.3l-3.3,-3.3z"/><path d="M1262.8,599.6l3.3,3.3l-3.3,3.3l-3.3,-3.3z"/><path d="M1268.2,601.0l3.3,3.3l-3.3,3.3l-3.3,-3.3z"/><path d="M1273.5,596.9l3.3,3.3l-3.3,3.3l-3.3,-3.3z"/><path d="M1271.8,600.5l3.3,3.3l-3.3,3.3l-3.3,-3.3z"/><path d="M1256.6,607.6l3.3,3.3l-3.3,3.3l-3.3,-3.3z"/><path d="M1274.8,606.7l3.3,3.3l-3.3,3.3l-3.3,-3.3z"/><path d="M1257.5,621.0l3.3,3.3l-3.3,3.3l-3.3,-3.3z"/><path d="M1260.1,624.6l3.3,3.3l-3.3,3.3l-3.3,-3.3z"/><path d="M1273.5,621.0l3.3,3.3l-3.3,3.3l-3.3,-3.3z"/><path d="M1275.3,618.3l3.3,3.3l-3.3,3.3l-3.3,-3.3z"/><path d="M1259.2,628.1l3.3,3.3l-3.3,3.3l-3.3,-3.3z"/><path d="M1266.4,627.8l3.3,3.3l-3.3,3.3l-3.3,-3.3z"/><path d="M1271.8,629.9l3.3,3.3l-3.3,3.3l-3.3,-3.3z"/><path d="M1274.8,628.1l3.3,3.3l-3.3,3.3l-3.3,-3.3z"/><path d="M1259.8,633.5l3.3,3.3l-3.3,3.3l-3.3,-3.3z"/><path d="M1276.2,633.5l3.3,3.3l-3.3,3.3l-3.3,-3.3z"/><path d="M1262.8,637.9l3.3,3.3l-3.3,3.3l-3.3,-3.3z"/><path d="M1274.8,639.7l3.3,3.3l-3.3,3.3l-3.3,-3.3z"/><path d="M1259.8,640.6l3.3,3.3l-3.3,3.3l-3.3,-3.3z"/><path d="M1408.0,494.9l3.3,3.3l-3.3,3.3l-3.3,-3.3z"/><path d="M1407.0,559.1l3.3,3.3l-3.3,3.3l-3.3,-3.3z"/><path d="M1393.1,570.4l3.3,3.3l-3.3,3.3l-3.3,-3.3z"/><path d="M1411.5,581.0l3.3,3.3l-3.3,3.3l-3.3,-3.3z"/><path d="M1394.3,595.9l3.3,3.3l-3.3,3.3l-3.3,-3.3z"/><path d="M1399.8,597.9l3.3,3.3l-3.3,3.3l-3.3,-3.3z"/><path d="M1401.9,600.0l3.3,3.3l-3.3,3.3l-3.3,-3.3z"/><path d="M1403.9,605.5l3.3,3.3l-3.3,3.3l-3.3,-3.3z"/><path d="M1397.8,610.2l3.3,3.3l-3.3,3.3l-3.3,-3.3z"/><path d="M1411.5,611.2l3.3,3.3l-3.3,3.3l-3.3,-3.3z"/><path d="M1394.7,614.3l3.3,3.3l-3.3,3.3l-3.3,-3.3z"/><path d="M1401.9,617.3l3.3,3.3l-3.3,3.3l-3.3,-3.3z"/><path d="M1395.8,621.4l3.3,3.3l-3.3,3.3l-3.3,-3.3z"/><path d="M1410.0,625.5l3.3,3.3l-3.3,3.3l-3.3,-3.3z"/><path d="M1394.7,627.5l3.3,3.3l-3.3,3.3l-3.3,-3.3z"/><path d="M1392.7,637.7l3.3,3.3l-3.3,3.3l-3.3,-3.3z"/><path d="M1395.8,638.7l3.3,3.3l-3.3,3.3l-3.3,-3.3z"/><path d="M1398.8,639.8l3.3,3.3l-3.3,3.3l-3.3,-3.3z"/><path d="M1412.1,639.4l3.3,3.3l-3.3,3.3l-3.3,-3.3z"/><path d="M1407.0,642.8l3.3,3.3l-3.3,3.3l-3.3,-3.3z"/><path d="M1393.7,640.8l3.3,3.3l-3.3,3.3l-3.3,-3.3z"/><path d="M1805.4,606.2l3.3,3.3l-3.3,3.3l-3.3,-3.3z"/><path d="M1816.2,604.6l3.3,3.3l-3.3,3.3l-3.3,-3.3z"/><path d="M1817.6,605.9l3.3,3.3l-3.3,3.3l-3.3,-3.3z"/><path d="M1815.4,608.1l3.3,3.3l-3.3,3.3l-3.3,-3.3z"/><path d="M1814.0,610.4l3.3,3.3l-3.3,3.3l-3.3,-3.3z"/><path d="M1806.6,617.5l3.3,3.3l-3.3,3.3l-3.3,-3.3z"/><path d="M1800.9,624.2l3.3,3.3l-3.3,3.3l-3.3,-3.3z"/><path d="M1802.0,625.5l3.3,3.3l-3.3,3.3l-3.3,-3.3z"/><path d="M1819.4,630.9l3.3,3.3l-3.3,3.3l-3.3,-3.3z"/><path d="M1802.9,636.7l3.3,3.3l-3.3,3.3l-3.3,-3.3z"/><path d="M1802.0,638.9l3.3,3.3l-3.3,3.3l-3.3,-3.3z"/><path d="M1804.6,639.8l3.3,3.3l-3.3,3.3l-3.3,-3.3z"/><path d="M1815.4,637.6l3.3,3.3l-3.3,3.3l-3.3,-3.3z"/><path d="M1813.6,640.3l3.3,3.3l-3.3,3.3l-3.3,-3.3z"/><path d="M1814.9,643.8l3.3,3.3l-3.3,3.3l-3.3,-3.3z"/><path d="M1806.4,640.3l3.3,3.3l-3.3,3.3l-3.3,-3.3z"/><path d="M1185.4,538.0l3.3,3.3l-3.3,3.3l-3.3,-3.3z"/><path d="M1185.1,542.4l3.3,3.3l-3.3,3.3l-3.3,-3.3z"/><path d="M1186.0,542.7l3.3,3.3l-3.3,3.3l-3.3,-3.3z"/><path d="M1185.6,549.4l3.3,3.3l-3.3,3.3l-3.3,-3.3z"/><path d="M1196.6,540.2l3.3,3.3l-3.3,3.3l-3.3,-3.3z"/><path d="M1191.2,542.1l3.3,3.3l-3.3,3.3l-3.3,-3.3z"/><path d="M1189.6,551.0l3.3,3.3l-3.3,3.3l-3.3,-3.3z"/><path d="M1194.3,556.1l3.3,3.3l-3.3,3.3l-3.3,-3.3z"/><path d="M1196.6,556.5l3.3,3.3l-3.3,3.3l-3.3,-3.3z"/><path d="M1198.8,557.4l3.3,3.3l-3.3,3.3l-3.3,-3.3z"/><path d="M1202.3,550.4l3.3,3.3l-3.3,3.3l-3.3,-3.3z"/><path d="M1203.6,549.8l3.3,3.3l-3.3,3.3l-3.3,-3.3z"/><path d="M1208.4,531.6l3.3,3.3l-3.3,3.3l-3.3,-3.3z"/><path d="M1208.7,558.4l3.3,3.3l-3.3,3.3l-3.3,-3.3z"/><path d="M1192.8,567.0l3.3,3.3l-3.3,3.3l-3.3,-3.3z"/><path d="M1200.4,568.6l3.3,3.3l-3.3,3.3l-3.3,-3.3z"/><path d="M1201.7,570.2l3.3,3.3l-3.3,3.3l-3.3,-3.3z"/><path d="M1147.4,574.7l3.3,3.3l-3.3,3.3l-3.3,-3.3z"/><path d="M1150.0,577.2l3.3,3.3l-3.3,3.3l-3.3,-3.3z"/><path d="M1153.2,572.8l3.3,3.3l-3.3,3.3l-3.3,-3.3z"/><path d="M1159.2,573.7l3.3,3.3l-3.3,3.3l-3.3,-3.3z"/><path d="M1153.5,583.6l3.3,3.3l-3.3,3.3l-3.3,-3.3z"/><path d="M1156.0,585.2l3.3,3.3l-3.3,3.3l-3.3,-3.3z"/><path d="M1149.3,602.7l3.3,3.3l-3.3,3.3l-3.3,-3.3z"/><path d="M1149.3,615.8l3.3,3.3l-3.3,3.3l-3.3,-3.3z"/><path d="M1170.1,575.0l3.3,3.3l-3.3,3.3l-3.3,-3.3z"/><path d="M1173.6,579.1l3.3,3.3l-3.3,3.3l-3.3,-3.3z"/><path d="M1178.0,582.0l3.3,3.3l-3.3,3.3l-3.3,-3.3z"/><path d="M1169.8,591.6l3.3,3.3l-3.3,3.3l-3.3,-3.3z"/><path d="M1175.8,594.8l3.3,3.3l-3.3,3.3l-3.3,-3.3z"/><path d="M1170.4,597.9l3.3,3.3l-3.3,3.3l-3.3,-3.3z"/><path d="M1172.6,605.0l3.3,3.3l-3.3,3.3l-3.3,-3.3z"/><path d="M1176.8,608.8l3.3,3.3l-3.3,3.3l-3.3,-3.3z"/><path d="M1192.8,567.7l3.3,3.3l-3.3,3.3l-3.3,-3.3z"/><path d="M1201.0,570.2l3.3,3.3l-3.3,3.3l-3.3,-3.3z"/><path d="M1197.2,576.3l3.3,3.3l-3.3,3.3l-3.3,-3.3z"/><path d="M1203.0,577.5l3.3,3.3l-3.3,3.3l-3.3,-3.3z"/><path d="M1181.3,575.6l3.3,3.3l-3.3,3.3l-3.3,-3.3z"/><path d="M1181.0,581.4l3.3,3.3l-3.3,3.3l-3.3,-3.3z"/><path d="M1184.5,588.4l3.3,3.3l-3.3,3.3l-3.3,-3.3z"/><path d="M1183.8,594.8l3.3,3.3l-3.3,3.3l-3.3,-3.3z"/><path d="M1206.5,596.0l3.3,3.3l-3.3,3.3l-3.3,-3.3z"/><path d="M1193.4,597.9l3.3,3.3l-3.3,3.3l-3.3,-3.3z"/><path d="M1199.8,599.9l3.3,3.3l-3.3,3.3l-3.3,-3.3z"/><path d="M1190.2,603.1l3.3,3.3l-3.3,3.3l-3.3,-3.3z"/><path d="M1203.6,602.4l3.3,3.3l-3.3,3.3l-3.3,-3.3z"/><path d="M1207.4,605.6l3.3,3.3l-3.3,3.3l-3.3,-3.3z"/><path d="M1192.8,606.2l3.3,3.3l-3.3,3.3l-3.3,-3.3z"/><path d="M1196.6,606.9l3.3,3.3l-3.3,3.3l-3.3,-3.3z"/><path d="M1188.9,607.5l3.3,3.3l-3.3,3.3l-3.3,-3.3z"/><path d="M1183.8,610.1l3.3,3.3l-3.3,3.3l-3.3,-3.3z"/><path d="M1195.3,611.3l3.3,3.3l-3.3,3.3l-3.3,-3.3z"/><path d="M1201.0,611.3l3.3,3.3l-3.3,3.3l-3.3,-3.3z"/><path d="M1206.8,612.0l3.3,3.3l-3.3,3.3l-3.3,-3.3z"/><path d="M1189.6,613.9l3.3,3.3l-3.3,3.3l-3.3,-3.3z"/><path d="M1197.9,615.2l3.3,3.3l-3.3,3.3l-3.3,-3.3z"/><path d="M1149.1,617.6l3.3,3.3l-3.3,3.3l-3.3,-3.3z"/><path d="M1145.6,632.5l3.3,3.3l-3.3,3.3l-3.3,-3.3z"/><path d="M1181.9,625.0l3.3,3.3l-3.3,3.3l-3.3,-3.3z"/><path d="M1176.3,637.3l3.3,3.3l-3.3,3.3l-3.3,-3.3z"/><path d="M1192.2,617.0l3.3,3.3l-3.3,3.3l-3.3,-3.3z"/><path d="M1197.3,616.0l3.3,3.3l-3.3,3.3l-3.3,-3.3z"/><path d="M1196.0,629.3l3.3,3.3l-3.3,3.3l-3.3,-3.3z"/><path d="M1206.1,624.2l3.3,3.3l-3.3,3.3l-3.3,-3.3z"/><path d="M1150.3,522.3l3.3,3.3l-3.3,3.3l-3.3,-3.3z"/><path d="M1160.5,525.8l3.3,3.3l-3.3,3.3l-3.3,-3.3z"/><path d="M1171.0,525.8l3.3,3.3l-3.3,3.3l-3.3,-3.3z"/><path d="M1180.9,528.4l3.3,3.3l-3.3,3.3l-3.3,-3.3z"/><path d="M1170.7,533.8l3.3,3.3l-3.3,3.3l-3.3,-3.3z"/><path d="M1173.3,535.1l3.3,3.3l-3.3,3.3l-3.3,-3.3z"/><path d="M1184.1,537.6l3.3,3.3l-3.3,3.3l-3.3,-3.3z"/><path d="M1148.4,540.5l3.3,3.3l-3.3,3.3l-3.3,-3.3z"/><path d="M1155.4,546.3l3.3,3.3l-3.3,3.3l-3.3,-3.3z"/><path d="M1169.4,544.0l3.3,3.3l-3.3,3.3l-3.3,-3.3z"/><path d="M1176.5,540.2l3.3,3.3l-3.3,3.3l-3.3,-3.3z"/><path d="M1179.3,543.4l3.3,3.3l-3.3,3.3l-3.3,-3.3z"/><path d="M1174.5,547.2l3.3,3.3l-3.3,3.3l-3.3,-3.3z"/><path d="M1172.6,549.8l3.3,3.3l-3.3,3.3l-3.3,-3.3z"/><path d="M1174.5,551.0l3.3,3.3l-3.3,3.3l-3.3,-3.3z"/><path d="M1179.6,549.8l3.3,3.3l-3.3,3.3l-3.3,-3.3z"/><path d="M1148.4,551.4l3.3,3.3l-3.3,3.3l-3.3,-3.3z"/><path d="M1161.1,553.3l3.3,3.3l-3.3,3.3l-3.3,-3.3z"/><path d="M1154.1,559.0l3.3,3.3l-3.3,3.3l-3.3,-3.3z"/></g><g fill="#000" stroke="#0a28e6" stroke-width="1.0"><circle cx="180.2" cy="359.2" r="5.9"/><circle cx="203.0" cy="293.8" r="5.9"/><circle cx="225.7" cy="297.3" r="5.9"/><circle cx="293.3" cy="331.8" r="5.9"/><circle cx="429.1" cy="529.7" r="5.9"/><circle cx="835.1" cy="599.0" r="5.9"/></g><g fill="#000" stroke="#0a28e6" stroke-width="0.6"><path d="M1155.0,528.2l9.3,9.3l-9.3,9.3l-9.3,-9.3z"/><path d="M1177.1,558.2l9.3,9.3l-9.3,9.3l-9.3,-9.3z"/><path d="M1199.6,581.2l9.3,9.3l-9.3,9.3l-9.3,-9.3z"/><path d="M1267.6,608.7l9.3,9.3l-9.3,9.3l-9.3,-9.3z"/><path d="M1402.9,624.6l9.3,9.3l-9.3,9.3l-9.3,-9.3z"/><path d="M1809.7,623.7l9.3,9.3l-9.3,9.3l-9.3,-9.3z"/></g><text class="sans" font-size="29" transform="rotate(-90)" x="-484.0" y="34.3" textLength="256.0" lengthAdjust="spacing">Ratio of <tspan font-weight="bold">Bispectral</tspan></text><text class="sans" font-size="29" transform="rotate(-90)" x="-580.5" y="69.6" textLength="454.5" lengthAdjust="spacing">Quadratic Phase Coupling (R<tspan font-size="22" dy="4.4">BQPC</tspan><tspan dy="-4.4">)</tspan></text><text class="sans" font-size="29" transform="rotate(-90)" x="-607.0" y="1009.9" textLength="502.5" lengthAdjust="spacing">Ratio of <tspan font-weight="bold">bivariate Granger-causality</tspan></text><text class="sans" font-size="29" transform="rotate(-90)" x="-584.5" y="1045.6" textLength="455.5" lengthAdjust="spacing">Quadratic Phase Coupling (R<tspan font-size="22" dy="4.4">GQPC</tspan><tspan dy="-4.4">)</tspan></text><text class="sans" x="153.0" y="773.3" font-size="29" textLength="667.5" lengthAdjust="spacing">Coupling strength between interacting channels (</text><text class="serif" font-style="italic" font-size="30.5" transform="translate(820.5,773.3) scale(1.18,1)">W</text><text class="serif" font-style="italic" font-size="22" x="852.8" y="778.8">(1,2)</text><text class="sans" font-size="29" x="895.6" y="773.3">)</text><text class="sans" x="1127.4" y="773.3" font-size="29" textLength="667.5" lengthAdjust="spacing">Coupling strength between interacting channels (</text><text class="serif" font-style="italic" font-size="30.5" transform="translate(1794.9,773.3) scale(1.18,1)">W</text><text class="serif" font-style="italic" font-size="22" x="1827.2" y="778.8">(1,2)</text><text class="sans" font-size="29" x="1870.0" y="773.3">)</text></svg></body></html>
